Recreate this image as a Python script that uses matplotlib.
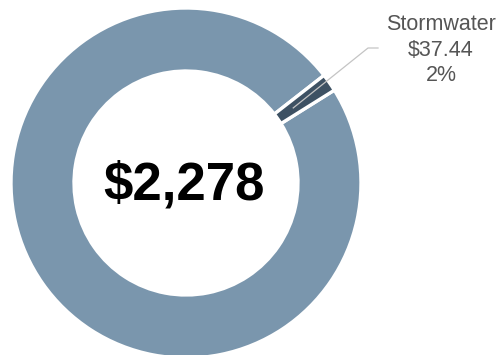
import matplotlib
matplotlib.use("Agg")
import matplotlib.pyplot as plt
import numpy as np

# Datos del gráfico
categorias = ["Otros", "Stormwater"]
valores = [2240.56, 37.44]
total_etiqueta = "$2,278"
etiqueta_storm = "Stormwater\n$37.44\n2%"

colores = ["#7a96ad", "#3d5163"]

plt.rcParams["font.family"] = ["Liberation Sans", "DejaVu Sans"]

fig = plt.figure(figsize=(5.02, 3.55), dpi=100)
ax = fig.add_axes([0, 0, 1, 1])

centro = (186, 172)
radio = 175
ancho = 63

# el sector de Stormwater queda centrado en ~35 grados
frac_storm = valores[1] / sum(valores)
inicio = 35 - frac_storm * 360 / 2 - 360 * (1 - frac_storm)
wedges, _ = ax.pie(valores, colors=colores, center=centro, radius=radio,
                   startangle=inicio, counterclock=True,
                   wedgeprops=dict(width=ancho, edgecolor="white", linewidth=2.4))

# pie() cambia los límites, se fijan después
ax.set_xlim(0, 502)
ax.set_ylim(0, 355)
ax.set_aspect("equal")
ax.axis("off")

# línea guía hacia la etiqueta
w = wedges[1]
ang = np.deg2rad((w.theta1 + w.theta2) / 2)
r0 = radio - ancho * 0.7
x0 = centro[0] + r0 * np.cos(ang)
y0 = centro[1] + r0 * np.sin(ang)
ax.plot([x0, 368, 378], [y0, 307, 307], color="#c4c4c4", lw=0.9)

ax.text(441, 305, etiqueta_storm, ha="center", va="center", fontsize=15.5,
        color="#555555", linespacing=1.3)

ax.text(184, 169, total_etiqueta, ha="center", va="center", fontsize=38,
        fontweight="bold", color="black")

fig.savefig("out.png", dpi=100)
